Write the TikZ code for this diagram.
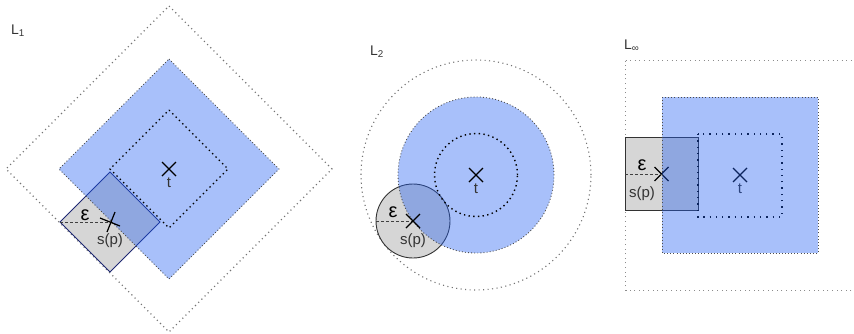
\documentclass[tikz,border=0pt]{standalone}
\usepackage{fontspec}
\setmainfont{Liberation Sans}
\definecolor{bluebase}{RGB}{32,94,242}
\definecolor{smallgray}{RGB}{214,214,214}
\definecolor{navyline}{RGB}{30,40,115}
\begin{document}
\begin{tikzpicture}[x=1pt,y=-1pt,
  outerdot/.style={draw=black!55, line width=1.1pt, dash pattern=on 1.1pt off 3.4pt},
  outerdotsq/.style={draw=black!45, line width=1pt, dash pattern=on 1pt off 3.6pt},
  bluedot/.style={draw=black!70, line width=0.9pt, dash pattern=on 0.9pt off 2.2pt},
  innerdot/.style={draw=black, line width=1.4pt, dash pattern=on 1.4pt off 3.3pt},
  innerdotsq/.style={draw=black, line width=1.3pt, dash pattern=on 1.3pt off 5pt},
  bluefill/.style={fill=bluebase, fill opacity=0.39},
  smallshape/.style={fill=smallgray, draw=#1, line width=0.9pt},
  crossline/.style={draw=black, line width=1.2pt},
  epsdash/.style={draw=black!75, line width=0.8pt, dash pattern=on 3pt off 2pt},
  lbl/.style={font=\fontsize{15}{15}\selectfont, text=black!80, inner sep=0pt, anchor=base},
  eps/.style={font=\fontsize{20}{20}\selectfont, text=black, inner sep=0pt, anchor=base},
  title/.style={font=\fontsize{14}{14}\selectfont, text=black!80, inner sep=0pt, anchor=base west}
]
\useasboundingbox (0,0) rectangle (854,333);

% ---------------- L1 ----------------
\coordinate (t1) at (169,169);
\coordinate (s1) at (110,222);
\coordinate (e1) at (60,222);
\draw[outerdot] (169,6) -- (332,169) -- (169,332) -- (6,169) -- cycle;
\draw[smallshape=navyline] (110,172) -- (160,222) -- (110,272) -- (60,222) -- cycle;
\fill[bluefill] (169,59) -- (279,169) -- (169,279) -- (59,169) -- cycle;
\draw[bluedot] (169,59) -- (279,169) -- (169,279) -- (59,169) -- cycle;
\draw[innerdot] (169,110) -- (228,169) -- (169,228) -- (110,169) -- cycle;
\draw[epsdash] (e1) -- (s1);
\draw[crossline] ([shift={(-7,-7)}]t1) -- ([shift={(7,7)}]t1);
\draw[crossline] ([shift={(7,-7)}]t1) -- ([shift={(-7,7)}]t1);
\draw[crossline] ([shift={(-10,-4)}]s1) -- ([shift={(10,4)}]s1);
\draw[crossline] ([shift={(5,-10)}]s1) -- ([shift={(-3,10)}]s1);
\node[lbl] (tl1) at (169,187) {t};
\node[lbl] (sl1) at (110,244) {s(p)};
\node[eps] (el1) at (85,220) {ε};
\node[title] (L1) at (11,34) {L\textsubscript{1}};

% ---------------- L2 ----------------
\coordinate (t2) at (476,175);
\coordinate (s2) at (413,221);
\coordinate (e2) at (376,221);
\draw[outerdot] (t2) circle[radius=115pt];
\draw[smallshape=black!80] (s2) circle[radius=37pt];
\fill[bluefill] (t2) circle[radius=78pt];
\draw[bluedot] (t2) circle[radius=78pt];
\draw[innerdot] (t2) circle[radius=41.5pt];
\draw[epsdash] (e2) -- (s2);
\draw[crossline] ([shift={(-7,-7)}]t2) -- ([shift={(7,7)}]t2);
\draw[crossline] ([shift={(7,-7)}]t2) -- ([shift={(-7,7)}]t2);
\draw[crossline] ([shift={(-7,-7)}]s2) -- ([shift={(7,7)}]s2);
\draw[crossline] ([shift={(7,-7)}]s2) -- ([shift={(-7,7)}]s2);
\node[lbl] (tl2) at (476,193) {t};
\node[lbl] (sl2) at (413,244) {s(p)};
\node[eps] (el2) at (393,217) {ε};
\node[title] (L2) at (370,55) {L\textsubscript{2}};

% ---------------- Linf ----------------
\coordinate (t3) at (740,175);
\coordinate (s3) at (661.5,174);
\coordinate (e3) at (625,174);
\draw[outerdotsq] (625.5,60.5) -- (858,60.5) -- (858,290.5) -- (625.5,290.5) -- cycle;
\draw[smallshape=black!80] (625,137) rectangle (698,210);
\draw[innerdotsq] (698,134) rectangle (782,217);
\draw[crossline] ([shift={(-7,-7)}]t3) -- ([shift={(7,7)}]t3);
\draw[crossline] ([shift={(7,-7)}]t3) -- ([shift={(-7,7)}]t3);
\draw[crossline] ([shift={(-7,-7)}]s3) -- ([shift={(7,7)}]s3);
\draw[crossline] ([shift={(7,-7)}]s3) -- ([shift={(-7,7)}]s3);
\node[lbl] (tl3) at (740,193) {t};
\fill[bluefill] (662,97) rectangle (818,253);
\draw[bluedot] (662,97) rectangle (818,253);
\draw[epsdash] (e3) -- (s3);
\node[lbl] (sl3) at (642,197) {s(p)};
\node[eps] (el3) at (642,170) {ε};
\node[title] (L3) at (624,49) {L\textsubscript{∞}};
\end{tikzpicture}
\end{document}
